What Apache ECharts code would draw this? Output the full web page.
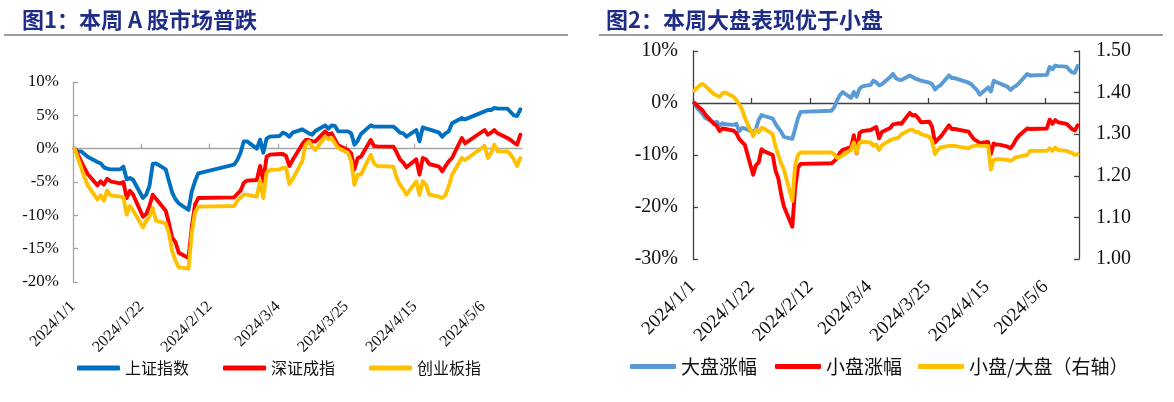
<!DOCTYPE html>
<html><head><meta charset="utf-8">
<script src="https://cdn.jsdelivr.net/npm/echarts@6/dist/echarts.min.js"></script>
<style>html,body{margin:0;padding:0;background:#fff}#c{width:1174px;height:402px}</style>
</head><body><div id="c"></div>
<script>
// ---------------- data ----------------
const dates = [
 '2024/1/1','2024/1/2','2024/1/3','2024/1/4','2024/1/5',
 '2024/1/8','2024/1/9','2024/1/10','2024/1/11','2024/1/12',
 '2024/1/15','2024/1/16','2024/1/17','2024/1/18','2024/1/19',
 '2024/1/22','2024/1/23','2024/1/24','2024/1/25','2024/1/26',
 '2024/1/29','2024/1/30','2024/1/31','2024/2/1','2024/2/2',
 '2024/2/5','2024/2/6','2024/2/7','2024/2/8',
 '2024/2/19','2024/2/20','2024/2/21','2024/2/22','2024/2/23',
 '2024/2/26','2024/2/27','2024/2/28','2024/2/29','2024/3/1',
 '2024/3/4','2024/3/5','2024/3/6','2024/3/7','2024/3/8',
 '2024/3/11','2024/3/12','2024/3/13','2024/3/14','2024/3/15',
 '2024/3/18','2024/3/19','2024/3/20','2024/3/21','2024/3/22',
 '2024/3/25','2024/3/26','2024/3/27','2024/3/28','2024/3/29',
 '2024/4/1','2024/4/2','2024/4/3',
 '2024/4/8','2024/4/9','2024/4/10','2024/4/11','2024/4/12',
 '2024/4/15','2024/4/16','2024/4/17','2024/4/18','2024/4/19',
 '2024/4/22','2024/4/23','2024/4/24','2024/4/25','2024/4/26',
 '2024/4/29','2024/4/30',
 '2024/5/6','2024/5/7','2024/5/8','2024/5/9','2024/5/10',
 '2024/5/13','2024/5/14','2024/5/15','2024/5/16','2024/5/17'
];
const tickLabels = ['2024/1/1','2024/1/22','2024/2/12','2024/3/4','2024/3/25','2024/4/15','2024/5/6'];

// Figure 1 (%)
const shIndex = [
 0,-0.4,-0.4,-0.8,-1.2,
 -2.0,-2.2,-2.8,-3.0,-3.1,
 -3.1,-2.7,-4.6,-4.4,-4.7,
 -7.4,-6.9,-5.6,-2.3,-2.2,
 -3.1,-4.9,-6.6,-7.6,-8.2,
 -9.2,-6.4,-4.9,-3.7,
 -2.4,-1.7,-0.6,1.1,1.1,
 0.0,1.35,-0.6,1.5,1.8,
 1.9,2.4,2.2,1.8,2.4,
 2.9,2.6,2.3,2.1,2.65,
 3.5,3.0,3.5,3.4,2.6,
 2.6,2.3,0.6,1.2,2.2,
 3.5,3.3,3.3,
 3.3,2.9,2.4,2.3,1.8,
 2.8,1.1,3.2,3.0,2.9,
 2.4,1.8,2.3,2.6,3.8,
 4.6,4.4,
 5.6,5.8,5.8,6.1,6.0,
 6.0,5.5,5.0,4.9,5.9
];
const szIndex = [
 0,-0.9,-1.9,-2.9,-3.8,
 -5.5,-4.9,-5.4,-4.5,-4.9,
 -5.2,-5.0,-7.4,-6.3,-6.9,
 -10.2,-9.8,-8.6,-6.9,-7.5,
 -9.3,-11.2,-13.4,-14.0,-15.6,
 -16.4,-11.8,-8.4,-7.4,
 -7.3,-6.8,-6.3,-5.1,-4.8,
 -4.7,-2.6,-4.9,-1.2,-0.9,
 -0.8,-0.8,-1.1,-2.6,-1.7,
 0.7,1.3,1.3,1.1,1.1,
 2.6,2.1,2.3,1.4,0.5,
 -0.2,-0.7,-3.1,-1.4,-1.2,
 1.3,0.4,0.35,
 0.3,-0.6,-1.6,-2.1,-2.8,
 -1.6,-3.9,-1.4,-1.6,-2.3,
 -2.7,-3.4,-2.6,-1.9,-1.4,
 1.6,0.8,
 2.8,2.1,2.4,2.8,2.3,
 1.6,1.3,0.9,0.6,2.1
];
const cybIndex = [
 0,-1.4,-2.8,-4.3,-5.5,
 -7.6,-7.0,-7.8,-6.3,-7.0,
 -7.2,-7.3,-9.9,-8.6,-9.3,
 -11.8,-10.8,-10.2,-8.9,-10.8,
 -11.2,-12.8,-15.4,-16.8,-17.8,
 -18.0,-12.7,-9.6,-8.7,
 -8.6,-7.8,-7.3,-6.9,-6.9,
 -7.2,-4.8,-7.4,-3.6,-3.2,
 -3.1,-2.9,-2.9,-5.3,-4.6,
 -1.8,0.6,1.1,0.3,-0.2,
 1.8,1.4,1.6,0.8,0.1,
 -0.6,-1.9,-5.4,-3.9,-3.9,
 -0.9,-2.2,-2.6,
 -2.7,-4.4,-5.4,-6.1,-6.9,
 -4.9,-6.9,-4.9,-5.4,-6.9,
 -7.2,-7.4,-6.9,-5.6,-3.9,
 -1.4,-1.7,
 0.4,-1.4,-0.6,0.6,-0.4,
 -0.4,-0.9,-1.6,-2.6,-1.4
];

// Figure 2 (% for large / small, ratio on right axis)
const bigCap = [
 0,-1.0,-1.6,-2.2,-2.9,
 -3.8,-3.6,-4.3,-3.9,-4.1,
 -4.2,-4.0,-5.4,-4.8,-4.9,
 -5.6,-5.0,-3.2,-2.3,-2.5,
 -3.0,-4.0,-4.8,-5.5,-6.5,
 -6.9,-5.0,-3.0,-1.7,
 -1.5,-0.8,0.5,1.5,2.1,
 1.0,2.1,1.2,2.7,3.2,
 3.5,4.3,4.0,3.4,3.6,
 5.0,5.6,4.8,4.5,4.4,
 5.3,5.0,4.7,4.5,4.3,
 3.9,3.6,2.6,3.1,3.4,
 5.3,4.8,4.8,
 3.9,3.6,3.0,2.5,1.6,
 3.0,2.2,4.3,4.0,3.8,
 3.1,2.5,3.0,3.3,3.8,
 5.6,5.3,
 5.4,6.9,6.5,7.2,7.1,
 7.0,6.4,5.9,5.8,7.1
];
const smallCap = [
 0,-0.5,-1.0,-1.5,-2.3,
 -4.0,-4.4,-5.4,-4.9,-5.0,
 -5.3,-5.8,-6.9,-7.5,-8.0,
 -13.8,-12.0,-11.4,-8.9,-9.3,
 -10.0,-13.0,-14.5,-17.5,-19.9,
 -23.8,-16.5,-12.5,-11.7,
 -11.6,-11.2,-10.6,-9.6,-9.0,
 -8.5,-6.2,-9.7,-5.8,-5.4,
 -5.2,-4.9,-4.6,-6.8,-5.6,
 -4.8,-4.1,-4.0,-3.9,-4.0,
 -1.9,-2.4,-2.3,-2.9,-3.7,
 -3.6,-4.6,-7.6,-7.0,-6.5,
 -4.3,-5.0,-5.0,
 -5.5,-6.3,-7.0,-7.3,-7.7,
 -7.5,-9.8,-7.8,-8.0,-8.0,
 -8.4,-8.7,-8.0,-7.0,-6.3,
 -4.9,-5.0,
 -4.9,-3.2,-4.0,-3.3,-3.7,
 -4.0,-4.5,-5.0,-5.3,-4.3
];
const smallToBig = [
 1.405,1.412,1.418,1.421,1.415,
 1.396,1.393,1.390,1.398,1.400,
 1.390,1.382,1.372,1.360,1.340,
 1.295,1.310,1.305,1.315,1.313,
 1.300,1.270,1.250,1.230,1.215,
 1.140,1.225,1.250,1.256,
 1.256,1.252,1.243,1.245,1.250,
 1.262,1.280,1.255,1.280,1.282,
 1.280,1.272,1.275,1.262,1.273,
 1.286,1.288,1.290,1.292,1.300,
 1.310,1.311,1.305,1.306,1.300,
 1.294,1.282,1.252,1.262,1.268,
 1.272,1.272,1.272,
 1.266,1.270,1.272,1.273,1.272,
 1.272,1.215,1.238,1.240,1.240,
 1.238,1.236,1.240,1.245,1.246,
 1.250,1.260,
 1.260,1.266,1.260,1.268,1.262,
 1.260,1.257,1.255,1.250,1.252
];

// ---------------- helpers ----------------
const T0 = Date.UTC(2024, 0, 1), DAY = 86400000;
function dayOf(s) { const p = s.split('/').map(Number); return (Date.UTC(p[0], p[1] - 1, p[2]) - T0) / DAY; }
const xs = dates.map(d => dayOf(d) + 0.5);
const pairs = arr => arr.map((v, i) => [xs[i], v]);
const tickVals = tickLabels.map(dayOf);
const xLabelFmt = v => { const i = tickVals.indexOf(Math.round(v)); return i >= 0 ? tickLabels[i] : ''; };

const SERIF = '"Liberation Serif","Times New Roman",serif';
const CJK = '"Noto Sans CJK SC","Noto Sans",sans-serif';
const AX1 = '#a6a6a6', AX2 = '#404040';

function xAxis(grid, color, fs, margin) {
  return {
    type: 'value', gridIndex: grid, min: 0, max: 138, interval: 21,
    axisLine: { show: true, lineStyle: { color: color, width: 1.3 } },
    axisTick: { show: true, inside: true, length: 5, customValues: tickVals, lineStyle: { color: color, width: 1.3 } },
    axisLabel: { customValues: tickVals, rotate: 45, margin: margin, formatter: xLabelFmt,
      fontFamily: SERIF, fontSize: fs, color: '#111' },
    splitLine: { show: false }
  };
}
function yAxis(grid, color, min, max, interval, fmt, fs, margin, position) {
  return {
    type: 'value', gridIndex: grid, min: min, max: max, interval: interval, position: position,
    axisLine: { show: true, lineStyle: { color: color, width: 1.3 } },
    axisTick: { show: true, inside: true, length: 5, lineStyle: { color: color, width: 1.3 } },
    axisLabel: { formatter: fmt, margin: margin, fontFamily: SERIF, fontSize: fs, color: '#111' },
    splitLine: { show: false }
  };
}
function line(name, data, xi, yi, color, z) {
  return { name: name, type: 'line', data: pairs(data), xAxisIndex: xi, yAxisIndex: yi,
    symbol: 'none', showSymbol: false, smooth: false, z: z,
    lineStyle: { color: color, width: 3.9, cap: 'round', join: 'round' },
    itemStyle: { color: color } };
}
function legend(name, left, top, fs, w) {
  return { data: [name], left: left, top: top, padding: 0, icon: 'roundRect', itemWidth: w, itemHeight: 5,
    selectedMode: false, textStyle: { fontFamily: CJK, fontSize: fs, color: '#111' } };
}

const chart = echarts.init(document.getElementById('c'), null, { renderer: 'canvas' });
chart.setOption({
  animation: false,
  backgroundColor: '#fff',
  title: [
    { text: '图1：本周 A 股市场普跌', left: 17, top: 4,
      textStyle: { fontFamily: CJK, fontSize: 22, fontWeight: 'bold', color: '#1F2D86' } },
    { text: '图2：本周大盘表现优于小盘', left: 601, top: 4,
      textStyle: { fontFamily: CJK, fontSize: 22, fontWeight: 'bold', color: '#1F2D86' } }
  ],
  graphic: [
    { type: 'line', shape: { x1: 4, y1: 35, x2: 568, y2: 35 }, style: { stroke: '#7f7f7f', lineWidth: 1.6 } },
    { type: 'line', shape: { x1: 599, y1: 35, x2: 1163, y2: 35 }, style: { stroke: '#7f7f7f', lineWidth: 1.6 } }
  ],
  grid: [
    { left: 73, top: 82, width: 449, height: 200 },
    { left: 693, top: 51, width: 386, height: 208 }
  ],
  xAxis: [ xAxis(0, AX1, 16, 22), xAxis(1, AX2, 19, 25) ],
  yAxis: [
    yAxis(0, AX1, -20, 10, 5, '{value}%', 17, 14, 'left'),
    yAxis(1, AX2, -30, 10, 10, '{value}%', 20, 15, 'left'),
    yAxis(1, AX2, 1.0, 1.5, 0.1, v => v.toFixed(2), 20, 17, 'right')
  ],
  legend: [
    legend('上证指数', 77, 360, 16, 43),
    legend('深证成指', 223, 360, 16, 43),
    legend('创业板指', 369, 360, 16, 43),
    legend('大盘涨幅', 630, 357, 19, 46),
    legend('小盘涨幅', 775, 357, 19, 46),
    legend('小盘/大盘（右轴）', 918, 357, 19, 46)
  ],
  series: [
    line('上证指数', shIndex, 0, 0, '#0070C0', 2),
    line('深证成指', szIndex, 0, 0, '#FF0000', 3),
    line('创业板指', cybIndex, 0, 0, '#FFC000', 4),
    line('大盘涨幅', bigCap, 1, 1, '#5B9BD5', 2),
    line('小盘涨幅', smallCap, 1, 1, '#FF0000', 3),
    line('小盘/大盘（右轴）', smallToBig, 1, 2, '#FFC000', 4)
  ]
});
</script>
</body></html>
